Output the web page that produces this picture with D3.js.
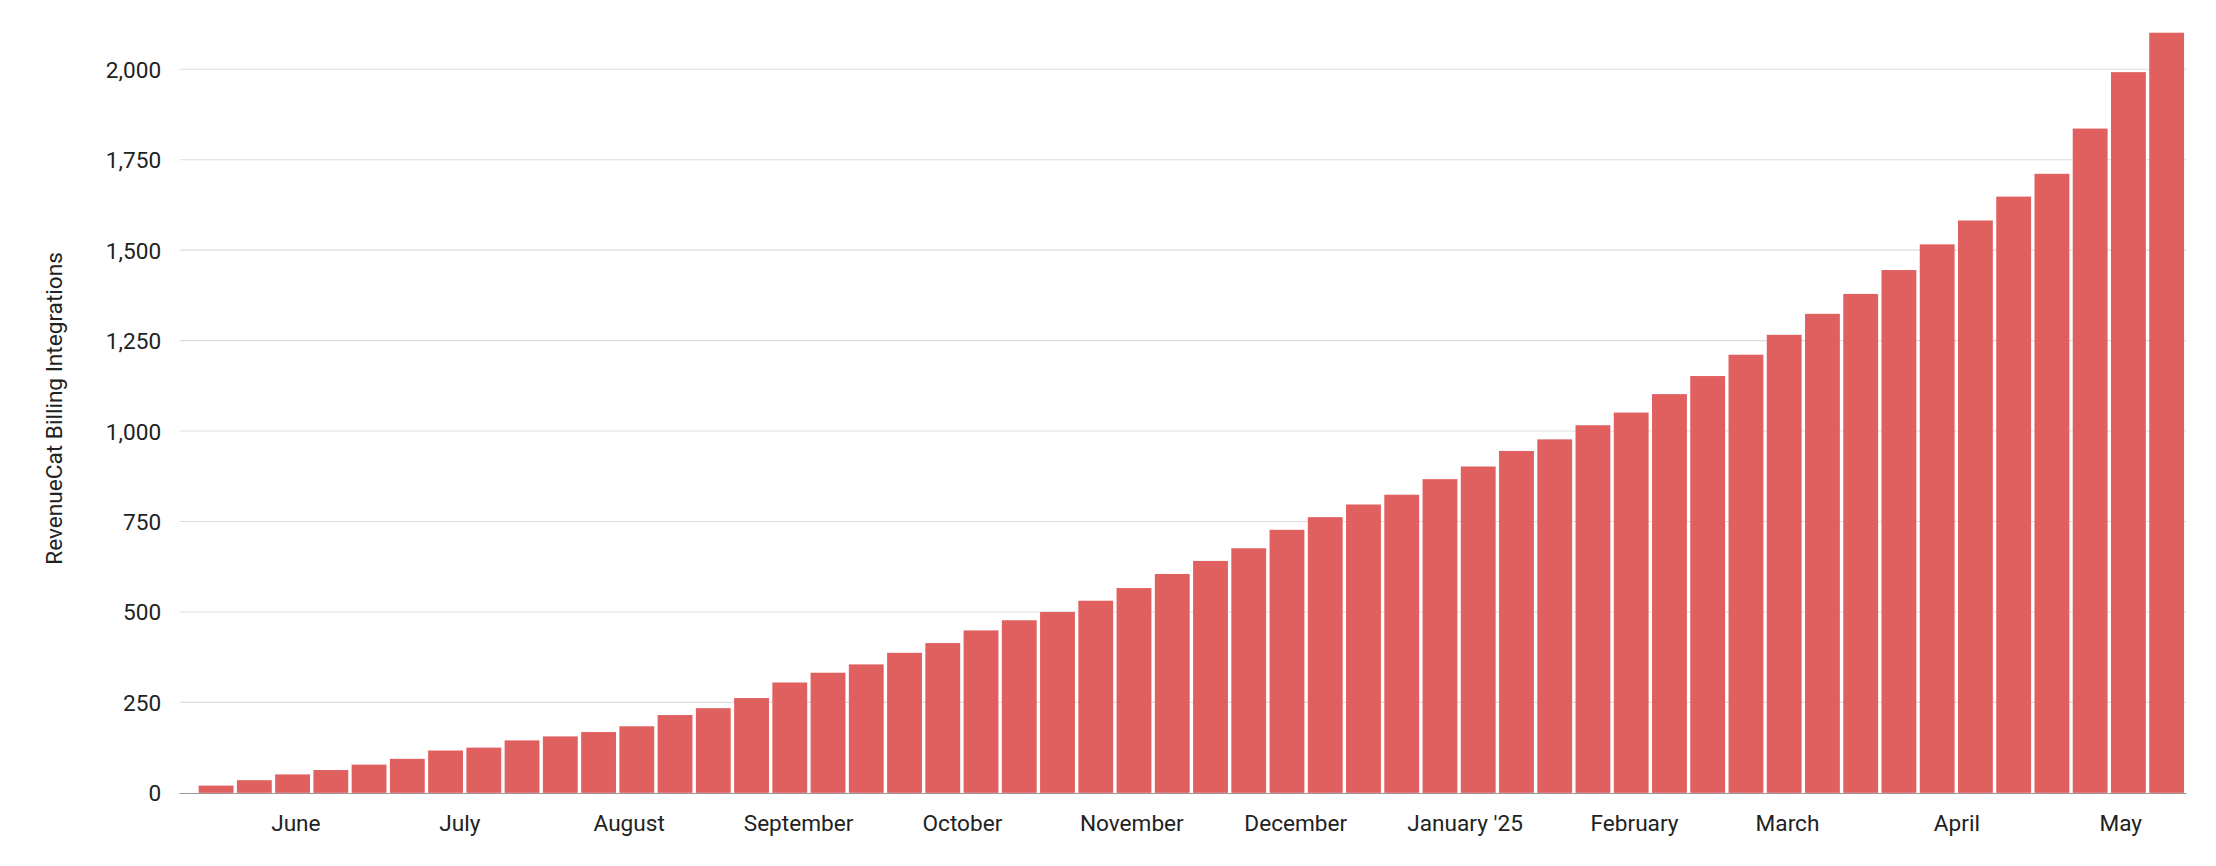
<!DOCTYPE html>
<html><head><meta charset="utf-8">
<script src="https://cdn.jsdelivr.net/npm/d3@7"></script>
<style>body{margin:0;background:#fff;font-family:Roboto,sans-serif}</style>
</head><body><svg id="c" width="2216" height="866"></svg>
<script>
// weekly cumulative integrations, first week starting 2024-05-17
const firstWeek = '2024-05-17';
const values = [20,35,51,63,78,94,117,125,145,156,168,184,215,234,262,305,332,355,387,414,
  449,477,500,531,566,605,641,676,727,762,797,824,867,902,945,977,1016,1051,1102,1152,
  1211,1266,1324,1379,1445,1516,1582,1648,1711,1836,1992,2101];
const yTicks = [0,250,500,750,1000,1250,1500,1750,2000];
const monthTicks = ['2024-06-01','2024-07-01','2024-08-01','2024-09-01','2024-10-01','2024-11-01',
  '2024-12-01','2025-01-01','2025-02-01','2025-03-01','2025-04-01','2025-05-01'];
const yLabel = 'RevenueCat Billing Integrations';

// layout measured on a 1568px-wide view, scaled up to the page
const k = 2216 / 1568;
const svg = d3.select('#c').append('g').attr('transform', `scale(${k})`);
const day = 864e5;
const start = new Date(firstWeek + 'T00:00:00Z');
const weeks = values.map((v, i) => ({ date: new Date(+start + i * 7 * day), v }));

const x = d3.scaleUtc()
  .domain([new Date(+start - 3.2 * day), new Date(+start + 364.1 * day)])
  .range([127, 1547]);
const y = d3.scaleLinear().domain([0, 2000]).range([561, 49]);

// gridlines + y labels
svg.append('g').selectAll('line').data(yTicks.slice(1)).join('line')
  .attr('x1', 127).attr('x2', 1547).attr('y1', d => y(d)).attr('y2', d => y(d))
  .attr('stroke', '#dedede').attr('stroke-width', 0.8);
svg.append('g').selectAll('text').data(yTicks).join('text')
  .attr('x', 114).attr('y', d => y(d) + 6).attr('text-anchor', 'end')
  .attr('font-size', 16).attr('fill', '#222')
  .text(d => d3.format(',')(d));

const bw = x(new Date(+start + 7 * day)) - x(start);
svg.append('g').selectAll('rect').data(weeks).join('rect')
  .attr('x', d => x(d.date) + 1.2)
  .attr('width', bw - 2.4)
  .attr('y', d => y(d.v))
  .attr('height', d => y(0) - y(d.v))
  .attr('fill', '#e05f5f');

svg.append('line').attr('x1', 127).attr('x2', 1547).attr('y1', 561.5).attr('y2', 561.5)
  .attr('stroke', '#999').attr('stroke-width', 0.8);

svg.append('g').selectAll('text').data(monthTicks).join('text')
  .attr('x', d => x(new Date(d + 'T00:00:00Z')) + 12)
  .attr('y', 588).attr('text-anchor', 'middle')
  .attr('font-size', 16).attr('fill', '#222')
  .text(d => d.endsWith('01-01') ? "January '25" : d3.utcFormat('%B')(new Date(d + 'T00:00:00Z')));

svg.append('text').attr('transform', 'translate(44,289) rotate(-90)')
  .attr('text-anchor', 'middle').attr('font-size', 16).attr('fill', '#222')
  .text(yLabel);
</script></body></html>
